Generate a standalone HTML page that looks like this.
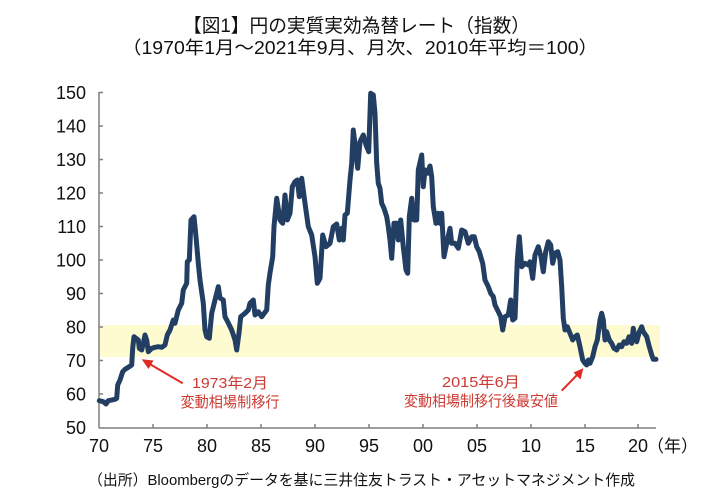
<!DOCTYPE html>
<html><head><meta charset="utf-8"><style>
html,body{margin:0;padding:0;background:#fff;}
svg{display:block;}
text{font-family:"Liberation Sans","Noto Sans CJK JP",sans-serif;}
</style></head><body>
<svg width="720" height="501" viewBox="0 0 720 501" xmlns="http://www.w3.org/2000/svg">
<rect width="720" height="501" fill="#fff"/>
<text x="356.5" y="32" font-size="19" text-anchor="middle" fill="#111" textLength="347" lengthAdjust="spacingAndGlyphs">【図1】円の実質実効為替レート（指数）</text>
<text x="360" y="54" font-size="18" text-anchor="middle" fill="#111" textLength="476" lengthAdjust="spacingAndGlyphs">（1970年1月～2021年9月、月次、2010年平均＝100）</text>
<rect x="99" y="325" width="561" height="32" fill="#fdfbcf"/>
<g stroke="#7f7f7f" stroke-width="1.5" fill="none">
<line x1="99" y1="92" x2="99" y2="428"/>
<line x1="99" y1="428" x2="656" y2="428"/>
<line x1="99" y1="92.5" x2="103" y2="92.5"/>
<line x1="99" y1="126" x2="103" y2="126"/>
<line x1="99" y1="159.5" x2="103" y2="159.5"/>
<line x1="99" y1="193" x2="103" y2="193"/>
<line x1="99" y1="226.5" x2="103" y2="226.5"/>
<line x1="99" y1="260" x2="103" y2="260"/>
<line x1="99" y1="293.5" x2="103" y2="293.5"/>
<line x1="99" y1="327" x2="103" y2="327"/>
<line x1="99" y1="360.5" x2="103" y2="360.5"/>
<line x1="99" y1="394" x2="103" y2="394"/>
<line x1="153" y1="428" x2="153" y2="424"/>
<line x1="207" y1="428" x2="207" y2="424"/>
<line x1="261" y1="428" x2="261" y2="424"/>
<line x1="315" y1="428" x2="315" y2="424"/>
<line x1="369" y1="428" x2="369" y2="424"/>
<line x1="423" y1="428" x2="423" y2="424"/>
<line x1="477" y1="428" x2="477" y2="424"/>
<line x1="531" y1="428" x2="531" y2="424"/>
<line x1="585" y1="428" x2="585" y2="424"/>
<line x1="638" y1="428" x2="638" y2="424"/>
</g>
<g font-size="18" fill="#111" text-anchor="end">
<text x="86" y="99">150</text>
<text x="86" y="132.5">140</text>
<text x="86" y="166">130</text>
<text x="86" y="199.5">120</text>
<text x="86" y="233">110</text>
<text x="86" y="266.5">100</text>
<text x="86" y="300">90</text>
<text x="86" y="333.5">80</text>
<text x="86" y="367">70</text>
<text x="86" y="400.5">60</text>
<text x="86" y="434">50</text>
</g>
<g font-size="18" fill="#111" text-anchor="middle">
<text x="99" y="452">70</text>
<text x="153" y="452">75</text>
<text x="207" y="452">80</text>
<text x="261" y="452">85</text>
<text x="315" y="452">90</text>
<text x="369" y="452">95</text>
<text x="423" y="452">00</text>
<text x="477" y="452">05</text>
<text x="531" y="452">10</text>
<text x="585" y="452">15</text>
<text x="638" y="452">20</text>
</g>
<text x="647" y="452" font-size="17" fill="#111">（年）</text>
<polyline fill="none" stroke="#233e63" stroke-width="5" stroke-linejoin="round" stroke-linecap="round" points="
99.3,400.7 103.3,401.7 106,404 108.3,400.7 115,399.3 116.7,398.3 117.7,385 120,380 122.7,371.7 125,369.3 128.3,367.3 131.7,365 132.7,348.3 134,336.7 136,338.3 138.3,340 139.3,348.3 141.7,350 143.3,343.3 145,335 146.7,340 148.3,351.7 151.7,348.3 155,347.3 158.3,346.7 161.7,347.3 165,345 167.3,335 170,330 173.3,320 175,323.3 178.3,310 181.7,303.3 183.3,290 186.7,283.3 187.3,261.7 189.3,260 191,220 194,216.7 196,236.7 198.3,263.3 200,280 203.3,303.3 205,330 206.7,336.7 209.3,338.3 211.7,313.3 215,300 218.3,286.7 220,298 223.3,300 225,316.7 228.3,323 231.7,330 235,340 236.7,350 239,333 240.7,316.7 245,313.3 248.3,310 250,303.3 253.3,300 255,315 258.3,311.7 261.7,316.7 266.7,310 268.3,285 270,273 272.7,256.7 274,226.7 276.7,198.3 280,220 282.7,223.3 285,195 287.3,220 290,213.3 292.3,186.7 295,181.7 297.3,180 299.3,196.7 301.7,178.3 305,203.3 308.3,226.7 311.7,235 315,256.7 317.3,283.3 320,278.3 322.7,235 326,246.7 330,243.3 333.3,226.7 336.7,224 339.3,240 341.7,228.3 343.3,240 345,215 347.3,213.3 350,180 351.7,163.3 353.3,130 355.7,150 357.7,168.3 360,141.7 363.3,135 366,145 368.7,151.7 370.7,93.3 373.3,95 375,113.3 376.7,163.3 378.3,183.3 380,188.3 381.7,203.3 384,208.3 386.7,216.7 388.3,226.7 390,240 391.7,258.3 394,223.3 396.7,223.3 398.3,240 400.7,220 403.3,246.7 406,270 407.7,273.3 409.3,216.7 411.7,198.3 414,220 416.7,220 418.3,170 421.7,155 423.3,186.7 425,170 427.3,173.3 430,166 431.7,176.7 433.3,206.7 436,223.3 438.3,213.3 440,223.3 441.7,213.3 444,256.7 446.7,243.3 450,228.3 451.7,243.3 455,243.3 458.3,248.3 461.7,230 465,231.7 468.3,243.3 471.7,236.7 474.3,236.7 476.7,246.7 479.3,251.7 481.7,260 482.7,263.3 485,280 488.3,286.7 490.7,293.3 493.3,296.7 495,305 498.3,311.7 500.7,316.7 502.7,330 505,316.7 508.3,315 510.7,300 512.7,320 515,318.3 517.3,260 519.3,236.7 521.7,266.7 525,263.3 528.3,265 530,261.7 532.7,278.3 535,255 538.3,246.7 541,256.7 543.3,271.7 545.7,251.7 548.3,241.7 550.7,245 552.7,263.3 555,253.3 557.7,251.7 560,260 561.7,286.7 563.3,318.3 565,330 567.3,326.7 570,333.3 572.7,340 575,336.7 577.3,335 580,346.7 582.7,360 585,363.3 586.7,365 588.3,360 590,363.3 592.7,356.7 595,346.7 597.3,340 600,320 601.7,313.3 603.3,320 605,340 606.7,331.7 609.3,340 611.7,343.3 614,348.3 616.7,350 619.3,345 621.7,346.7 624,341.7 626.7,343.3 629,336.7 631.7,343.3 633.3,328.3 635,338.3 636.7,341.7 639.3,331.7 641.7,326.7 643.3,331.7 646.7,336.7 649.3,346.7 651.7,355 653.3,359.3 656,359.3"/>
<line x1="182.7" y1="383.3" x2="149" y2="363.6" stroke="#e02a22" stroke-width="2"/>
<polygon points="141.7,359.3 153.5,360.5 148.5,369" fill="#e02a22"/>
<line x1="561.7" y1="390.7" x2="578" y2="374" stroke="#e02a22" stroke-width="2"/>
<polygon points="583.3,368.3 580.5,379.5 573.5,372.5" fill="#e02a22"/>
<g fill="#cc3a33" font-size="15" text-anchor="middle">
<text x="230" y="388" textLength="76" lengthAdjust="spacingAndGlyphs">1973年2月</text>
<text x="230" y="407" textLength="99" lengthAdjust="spacingAndGlyphs">変動相場制移行</text>
<text x="481" y="387" textLength="78" lengthAdjust="spacingAndGlyphs">2015年6月</text>
<text x="481" y="406" textLength="154" lengthAdjust="spacingAndGlyphs">変動相場制移行後最安値</text>
</g>
<text x="361.5" y="485" font-size="15" text-anchor="middle" fill="#111" textLength="547" lengthAdjust="spacingAndGlyphs">（出所）Bloombergのデータを基に三井住友トラスト・アセットマネジメント作成</text>
</svg>
</body></html>
